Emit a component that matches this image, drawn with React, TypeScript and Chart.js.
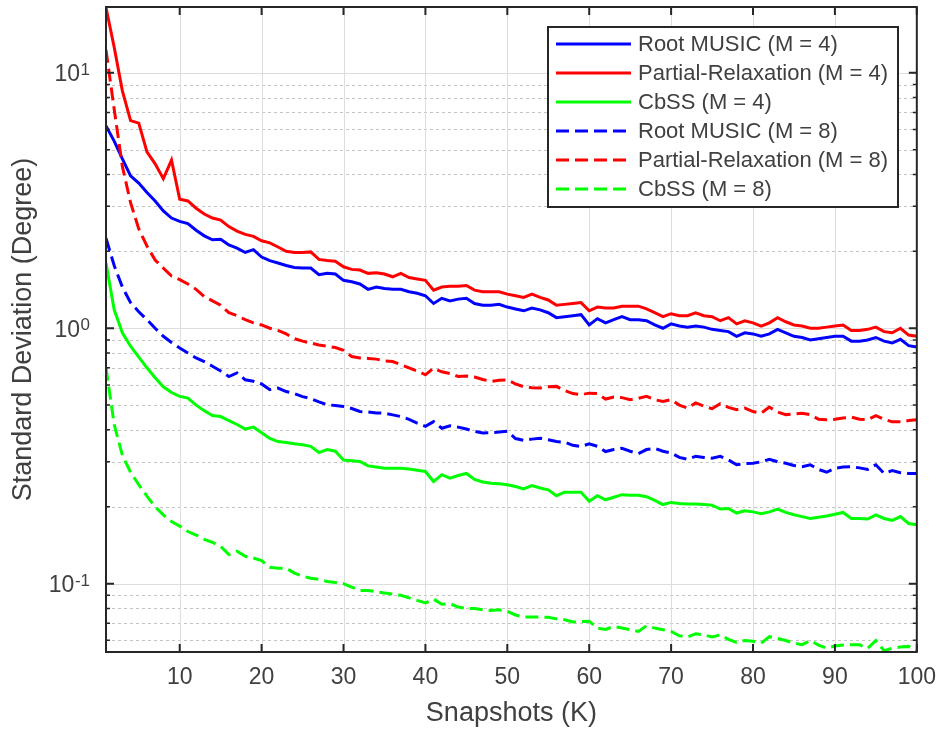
import React, { useEffect, useRef } from 'react';
import { Chart, registerables } from 'chart.js';

Chart.register(...registerables);

const FONT = '"Liberation Sans", Arial, Helvetica, sans-serif';
const TEXT_COLOR = '#404040';

const snapshots = Array.from({ length: 100 }, (_, i) => i + 1);

const rootMusicM4 = [
  6.2, 5.4, 4.6, 3.95, 3.7, 3.4, 3.15, 2.88, 2.7, 2.62,
  2.57, 2.42, 2.3, 2.22, 2.23, 2.12, 2.06, 1.98, 2.03, 1.9,
  1.84, 1.8, 1.76, 1.73, 1.72, 1.72, 1.62, 1.64, 1.63, 1.54,
  1.52, 1.49, 1.42, 1.45, 1.43, 1.42, 1.42, 1.39, 1.37, 1.34,
  1.25, 1.31, 1.28, 1.3, 1.31, 1.25, 1.23, 1.23, 1.24, 1.21,
  1.19, 1.17, 1.2, 1.18, 1.15, 1.1, 1.11, 1.12, 1.13, 1.03,
  1.09, 1.05, 1.08, 1.11, 1.08, 1.08, 1.07, 1.03, 1.0, 1.04,
  1.02, 1.01, 1.02, 1.01, 0.99, 0.98, 0.97, 0.93, 0.96, 0.95,
  0.93, 0.95, 0.99, 0.96, 0.93, 0.92, 0.9, 0.91, 0.92, 0.93,
  0.93, 0.89, 0.89, 0.9, 0.92, 0.89, 0.875, 0.905, 0.855, 0.845,
];

const partialRelaxM4 = [
  18.0, 12.6, 8.5, 6.5, 6.35, 4.9, 4.4, 3.85, 4.55, 3.2,
  3.15, 2.95, 2.8, 2.7, 2.65, 2.5, 2.4, 2.33, 2.29, 2.2,
  2.16, 2.08, 2.0, 1.98, 1.98, 1.99, 1.86, 1.84, 1.83, 1.74,
  1.7, 1.69, 1.64, 1.65, 1.63, 1.59, 1.64, 1.58, 1.56, 1.54,
  1.41, 1.45, 1.46, 1.46, 1.47, 1.41, 1.39, 1.39, 1.39, 1.36,
  1.34, 1.32, 1.36, 1.32, 1.29, 1.23, 1.24, 1.25, 1.26, 1.17,
  1.21, 1.2, 1.2, 1.22, 1.22, 1.22, 1.19, 1.15, 1.11, 1.14,
  1.12, 1.12, 1.15, 1.12, 1.11, 1.07, 1.1, 1.04, 1.07, 1.05,
  1.02, 1.05, 1.1, 1.06, 1.03, 1.02, 1.0, 1.0, 1.01, 1.02,
  1.03, 0.98, 0.98, 0.99, 1.01, 0.97, 0.96, 1.0, 0.94, 0.93,
];

const cbssM4 = [
  1.8, 1.18, 0.96, 0.85, 0.77, 0.7, 0.64, 0.59, 0.56, 0.541,
  0.533, 0.5, 0.475, 0.455, 0.451, 0.435, 0.42, 0.403, 0.41, 0.39,
  0.37, 0.36, 0.357, 0.353, 0.35, 0.345, 0.326, 0.335, 0.33, 0.305,
  0.303, 0.301, 0.289, 0.286, 0.283, 0.283, 0.283, 0.281, 0.278, 0.275,
  0.251, 0.267, 0.259, 0.265, 0.27, 0.256, 0.25, 0.247, 0.246, 0.244,
  0.24, 0.235, 0.242, 0.237, 0.233, 0.221, 0.228, 0.228, 0.228, 0.21,
  0.221, 0.213, 0.218, 0.223, 0.222, 0.222, 0.219, 0.212, 0.204, 0.208,
  0.206, 0.205, 0.205, 0.204, 0.203, 0.196, 0.197, 0.189, 0.193, 0.191,
  0.188, 0.191, 0.196, 0.19, 0.186, 0.183, 0.18, 0.182, 0.184, 0.187,
  0.19, 0.18, 0.18, 0.179, 0.186, 0.18, 0.177, 0.183, 0.172, 0.17,
];

const rootMusicM8 = [
  2.25, 1.76, 1.45, 1.26, 1.16, 1.08, 1.0, 0.93, 0.88, 0.837,
  0.8, 0.765, 0.74, 0.71, 0.68, 0.647, 0.668, 0.628, 0.62, 0.605,
  0.575, 0.583, 0.565, 0.555, 0.54, 0.53, 0.515, 0.502, 0.498, 0.494,
  0.485, 0.472, 0.47, 0.466, 0.465, 0.458, 0.451, 0.44, 0.425, 0.413,
  0.431, 0.406, 0.415, 0.41, 0.403, 0.395, 0.389, 0.39, 0.392, 0.395,
  0.37, 0.364, 0.368, 0.371, 0.366, 0.36, 0.358, 0.348, 0.344, 0.353,
  0.345, 0.329, 0.335, 0.339, 0.33, 0.323, 0.335, 0.339, 0.33, 0.325,
  0.312, 0.307, 0.315, 0.312, 0.31, 0.315, 0.305, 0.292, 0.295, 0.296,
  0.3, 0.307, 0.3, 0.296, 0.29, 0.287, 0.292, 0.28, 0.273, 0.283,
  0.286, 0.287, 0.284, 0.28, 0.292, 0.27, 0.277, 0.272, 0.27, 0.27,
];

const partialRelaxM8 = [
  12.3, 7.2, 4.3, 3.1, 2.45, 2.1, 1.85, 1.72, 1.6, 1.55,
  1.49, 1.42, 1.33, 1.28, 1.23, 1.15, 1.12, 1.08, 1.05, 1.03,
  1.0, 0.98, 0.95, 0.91, 0.89, 0.875, 0.86, 0.85, 0.84, 0.82,
  0.775, 0.765, 0.762, 0.757, 0.745, 0.741, 0.72, 0.7, 0.68, 0.657,
  0.698, 0.675, 0.665, 0.647, 0.65, 0.644, 0.63, 0.619, 0.625, 0.628,
  0.605, 0.59, 0.585, 0.583, 0.59, 0.592, 0.57, 0.555, 0.549, 0.557,
  0.555, 0.528, 0.538, 0.535, 0.525, 0.532, 0.541, 0.525, 0.517, 0.525,
  0.5, 0.487, 0.51, 0.495, 0.484, 0.506, 0.49, 0.48, 0.487, 0.472,
  0.465, 0.491, 0.47, 0.459, 0.462, 0.465, 0.459, 0.44, 0.438, 0.44,
  0.445, 0.449, 0.44, 0.438, 0.455, 0.44, 0.43, 0.43, 0.435, 0.438,
];

const cbssM8 = [
  0.7, 0.42, 0.318, 0.273, 0.244, 0.22, 0.2, 0.186, 0.175, 0.168,
  0.16, 0.155, 0.149, 0.145, 0.14, 0.13, 0.134, 0.128, 0.126, 0.123,
  0.116, 0.115, 0.115, 0.11, 0.107, 0.105, 0.104, 0.102, 0.101, 0.1,
  0.097, 0.094, 0.094, 0.093, 0.092, 0.091, 0.09, 0.088, 0.086, 0.084,
  0.087, 0.083, 0.0835, 0.081, 0.08, 0.08, 0.079, 0.0785, 0.079, 0.078,
  0.0754, 0.074, 0.074, 0.074, 0.0738, 0.0728, 0.0722, 0.0708, 0.071, 0.0713,
  0.0669, 0.0662, 0.068, 0.067, 0.066, 0.065, 0.0684, 0.067, 0.066, 0.065,
  0.0625, 0.0618, 0.0636, 0.063, 0.0618, 0.063, 0.0605, 0.0589, 0.0599, 0.0595,
  0.0585, 0.062, 0.061, 0.0599, 0.0585, 0.0577, 0.0599, 0.0575, 0.0559, 0.057,
  0.0575, 0.0577, 0.0577, 0.0558, 0.0599, 0.0546, 0.0559, 0.0565, 0.0568, 0.0546,
];

const seriesLabels = [
  'Root MUSIC (M = 4)',
  'Partial-Relaxation (M = 4)',
  'CbSS (M = 4)',
  'Root MUSIC (M = 8)',
  'Partial-Relaxation (M = 8)',
  'CbSS (M = 8)',
];
const seriesValues = [rootMusicM4, partialRelaxM4, cbssM4, rootMusicM8, partialRelaxM8, cbssM8];
const seriesColors = ['#0000ff', '#ff0000', '#00ff00', '#0000ff', '#ff0000', '#00ff00'];
const seriesDashed = [false, false, false, true, true, true];

const xTickValues = [10, 20, 30, 40, 50, 60, 70, 80, 90, 100];
const yDecadeTicks = [0.1, 1, 10];
const yDecadeExponents = ['-1', '0', '1'];
const yMinorTicks = [
  0.06, 0.07, 0.08, 0.09,
  0.2, 0.3, 0.4, 0.5, 0.6, 0.7, 0.8, 0.9,
  2, 3, 4, 5, 6, 7, 8, 9,
];

const DASH = [13, 6];

const matlabAxesPlugin = {
  id: 'matlabAxes',
  beforeDatasetsDraw(chart: any) {
    const { ctx, chartArea: a } = chart;
    const xs = chart.scales.x;
    const ys = chart.scales.y;
    ctx.save();
    ctx.lineWidth = 1;
    ctx.strokeStyle = '#c4c4c4';
    ctx.setLineDash([3, 3]);
    ctx.beginPath();
    for (const v of yMinorTicks) {
      const py = Math.round(ys.getPixelForValue(v)) + 0.5;
      if (py <= a.top || py >= a.bottom) continue;
      ctx.moveTo(a.left, py);
      ctx.lineTo(a.right, py);
    }
    ctx.stroke();
    ctx.setLineDash([]);
    ctx.strokeStyle = '#dddddd';
    ctx.beginPath();
    for (const v of yDecadeTicks) {
      const py = Math.round(ys.getPixelForValue(v)) + 0.5;
      if (py <= a.top || py >= a.bottom) continue;
      ctx.moveTo(a.left, py);
      ctx.lineTo(a.right, py);
    }
    for (const v of xTickValues) {
      const px = Math.round(xs.getPixelForValue(v)) + 0.5;
      if (px <= a.left + 1 || px >= a.right - 1) continue;
      ctx.moveTo(px, a.top);
      ctx.lineTo(px, a.bottom);
    }
    ctx.stroke();
    ctx.restore();
  },
  afterDatasetsDraw(chart: any) {
    const { ctx, chartArea: a } = chart;
    const xs = chart.scales.x;
    const ys = chart.scales.y;
    ctx.save();
    ctx.strokeStyle = '#262626';
    ctx.lineWidth = 2;
    ctx.setLineDash([]);
    ctx.strokeRect(a.left, a.top, a.right - a.left, a.bottom - a.top);
    ctx.beginPath();
    for (const v of xTickValues) {
      const px = xs.getPixelForValue(v);
      ctx.moveTo(px, a.bottom);
      ctx.lineTo(px, a.bottom - 8);
      ctx.moveTo(px, a.top);
      ctx.lineTo(px, a.top + 8);
    }
    for (const v of yDecadeTicks) {
      const py = ys.getPixelForValue(v);
      ctx.moveTo(a.left, py);
      ctx.lineTo(a.left + 8, py);
      ctx.moveTo(a.right, py);
      ctx.lineTo(a.right - 8, py);
    }
    ctx.stroke();
    ctx.lineWidth = 1.5;
    ctx.beginPath();
    for (const v of yMinorTicks) {
      const py = ys.getPixelForValue(v);
      if (py <= a.top || py >= a.bottom) continue;
      ctx.moveTo(a.left, py);
      ctx.lineTo(a.left + 4, py);
      ctx.moveTo(a.right, py);
      ctx.lineTo(a.right - 4, py);
    }
    ctx.stroke();
    ctx.restore();
  },
  afterDraw(chart: any) {
    const { ctx } = chart;
    const ys = chart.scales.y;
    ctx.save();
    ctx.fillStyle = TEXT_COLOR;
    ctx.textBaseline = 'alphabetic';
    ctx.textAlign = 'right';
    const right = 90;
    yDecadeTicks.forEach((v, i) => {
      const py = ys.getPixelForValue(v);
      ctx.font = `17px ${FONT}`;
      const exp = yDecadeExponents[i];
      const ew = ctx.measureText(exp).width;
      ctx.fillText(exp, right, py + 2);
      ctx.font = `23px ${FONT}`;
      ctx.fillText('10', right - ew - 0.5, py + 8.5);
    });
    const lx = 548;
    const ly = 27;
    const lw = 350;
    const lh = 180;
    ctx.fillStyle = '#ffffff';
    ctx.fillRect(lx, ly, lw, lh);
    ctx.strokeStyle = '#262626';
    ctx.lineWidth = 2;
    ctx.setLineDash([]);
    ctx.strokeRect(lx, ly, lw, lh);
    chart.data.datasets.forEach((ds: any, i: number) => {
      const cy = 44 + i * 29;
      ctx.strokeStyle = ds.borderColor;
      ctx.lineWidth = 3;
      ctx.setLineDash(ds.borderDash || []);
      ctx.beginPath();
      ctx.moveTo(556, cy);
      ctx.lineTo(631, cy);
      ctx.stroke();
      ctx.setLineDash([]);
      ctx.fillStyle = TEXT_COLOR;
      ctx.font = `22px ${FONT}`;
      ctx.textAlign = 'left';
      ctx.textBaseline = 'middle';
      ctx.fillText(ds.label, 638, cy + 1);
    });
    ctx.restore();
  },
};

export default function App() {
  const canvasRef = useRef<HTMLCanvasElement | null>(null);

  useEffect(() => {
    const canvas = canvasRef.current;
    if (!canvas) return;
    const datasets = seriesLabels.map((label, i) => ({
      label,
      data: snapshots.map((k, j) => ({ x: k, y: seriesValues[i][j] })),
      borderColor: seriesColors[i],
      backgroundColor: seriesColors[i],
      borderWidth: 3,
      borderDash: seriesDashed[i] ? DASH : [],
      pointRadius: 0,
      tension: 0,
      fill: false,
      order: 6 - i,
    }));
    const chart = new Chart(canvas, {
      type: 'line',
      data: { datasets },
      options: {
        responsive: false,
        animation: false,
        devicePixelRatio: 1,
        layout: { padding: { top: 7, right: 26, bottom: 0, left: 0 } },
        plugins: {
          legend: { display: false },
          tooltip: { enabled: false },
        },
        scales: {
          x: {
            type: 'linear',
            min: 1,
            max: 100,
            afterBuildTicks: (s: any) => {
              s.ticks = xTickValues.map((v) => ({ value: v }));
            },
            afterFit: (s: any) => {
              s.height = 81;
            },
            grid: { display: false, drawTicks: false },
            border: { display: false },
            ticks: {
              font: { family: FONT, size: 23 },
              color: TEXT_COLOR,
              padding: 12,
              maxRotation: 0,
              autoSkip: false,
            },
            title: {
              display: true,
              text: 'Snapshots (K)',
              font: { family: FONT, size: 27 },
              color: TEXT_COLOR,
              padding: { top: 0, bottom: 3 },
            },
          },
          y: {
            type: 'logarithmic',
            min: 0.054,
            max: 18.1,
            afterFit: (s: any) => {
              s.width = 106;
            },
            grid: { display: false, drawTicks: false },
            border: { display: false },
            ticks: { display: false },
            title: {
              display: true,
              text: 'Standard Deviation (Degree)',
              font: { family: FONT, size: 27 },
              color: TEXT_COLOR,
              padding: { top: 7, bottom: 0 },
            },
          },
        },
      },
      plugins: [matlabAxesPlugin],
    } as any);
    return () => chart.destroy();
  }, []);

  return (
    <div style={{ position: 'fixed', left: 0, top: 0, width: 948, height: 733, background: '#ffffff' }}>
      <canvas ref={canvasRef} width={948} height={733} style={{ display: 'block' }} />
    </div>
  );
}
